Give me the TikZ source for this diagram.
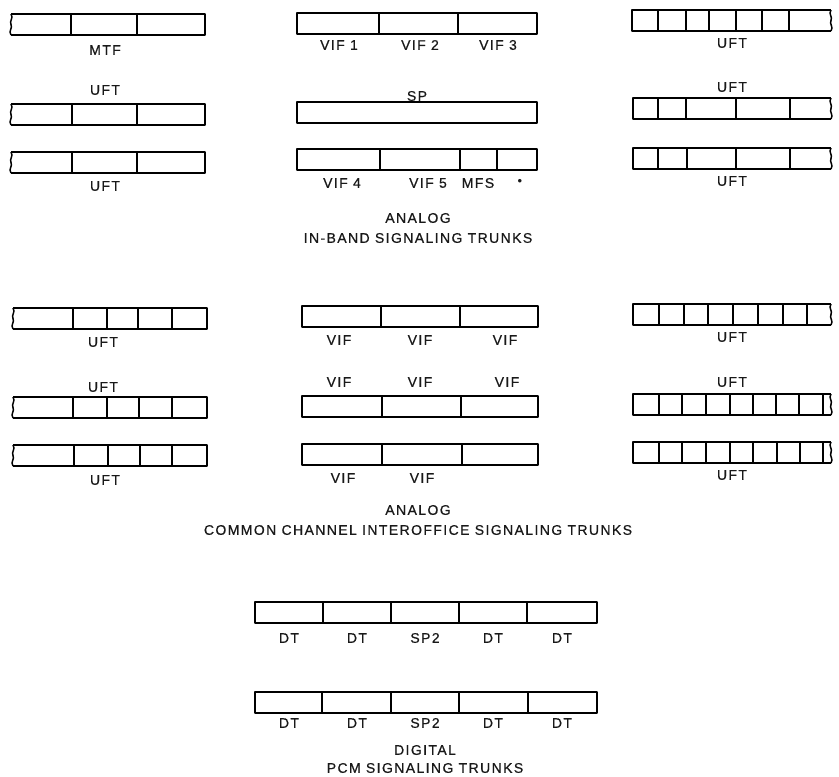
\documentclass[tikz,border=0pt]{standalone}
\usepackage{fontspec}
\setmainfont{Liberation Sans}
\newfontfamily\trunkfont[LetterSpace=10,FakeBold=0.6]{Liberation Sans}

% bar of trunks, broken at its left end
\newcommand{\barleft}[4]{%
  \draw[frame] (#1,#3) -- (#2,#3) -- (#2,#3+21) -- (#1,#3+21);
  \draw[frame] (#1,#3) .. controls (#1+3,#3+4) and (#1-2,#3+7) .. (#1,#3+10.5)
    .. controls (#1+2,#3+14) and (#1-3,#3+17) .. (#1,#3+21);
  \foreach \dv in {#4} \draw[frame] (\dv,#3) -- (\dv,#3+21);
}
% bar of trunks, broken at its right end
\newcommand{\barright}[4]{%
  \draw[frame] (#2,#3) -- (#1,#3) -- (#1,#3+21) -- (#2,#3+21);
  \draw[frame] (#2,#3) .. controls (#2-3,#3+4) and (#2+2,#3+7) .. (#2,#3+10.5)
    .. controls (#2-2,#3+14) and (#2+3,#3+17) .. (#2,#3+21);
  \foreach \dv in {#4} \draw[frame] (\dv,#3) -- (\dv,#3+21);
}
% closed bar of trunks
\newcommand{\barplain}[4]{%
  \draw[frame] (#1,#3) rectangle (#2,#3+21);
  \foreach \dv in {#4} \draw[frame] (\dv,#3) -- (\dv,#3+21);
}

\begin{document}
\begin{tikzpicture}[
    x=1pt, y=-1pt,
    frame/.style={line width=1.5pt, line join=round},
    lbl/.style={font=\trunkfont\fontsize{14}{16}\selectfont, inner sep=0pt, text=black!90}
]
    \useasboundingbox (0,0) rectangle (839,777);

    % analog in-band
    \barleft{11}{205}{14}{71,137}
    \node[lbl] (mtf) at (105,50) {MTF};
    \node[lbl] (uftLa) at (105,90) {UFT};
    \barleft{11}{205}{104}{72,137}
    \barleft{11}{205}{152}{72,137}
    \node[lbl] (uftLb) at (105,186) {UFT};

    \barplain{297}{537}{13}{379,458}
    \foreach \t/\x [count=\i] in {VIF 1/339, VIF 2/420, VIF 3/498}
        \node[lbl] (vif\i) at (\x,45) {\t};
    \node[lbl] (sp) at (417,96) {SP};
    \draw[frame] (297,102) rectangle (537,123);
    \barplain{297}{537}{149}{380,460,497}
    \node[lbl] (vif4) at (342,183) {VIF 4};
    \node[lbl] (vif5) at (428,183) {VIF 5};
    \node[lbl] (mfs) at (478,183) {MFS};
    \node[lbl, font=\fontsize{13}{13}\selectfont] (dot) at (520,182) {•};
    \node[lbl] (analogA) at (418,218) {ANALOG};
    \node[lbl] (inband) at (418,238) {IN-BAND SIGNALING TRUNKS};

    \barright{632}{831}{10}{658,686,709,736,762,789}
    \node[lbl] (uftRa) at (732,43) {UFT};
    \node[lbl] (uftRb) at (732,87) {UFT};
    \barright{633}{831}{98}{658,686,736,790}
    \barright{633}{831}{148}{658,687,736,790}
    \node[lbl] (uftRc) at (732,181) {UFT};

    % analog common channel
    \barleft{13}{207}{308}{73,107,138,172}
    \node[lbl] (uftLc) at (103,342) {UFT};
    \node[lbl] (uftLd) at (103,387) {UFT};
    \barleft{13}{207}{397}{73,107,139,172}
    \barleft{13}{207}{445}{74,108,140,172}
    \node[lbl] (uftLe) at (105,480) {UFT};

    \barplain{302}{538}{306}{381,460}
    \foreach \x [count=\i] in {339,420,505}
        \node[lbl] (vifa\i) at (\x,340) {VIF};
    \foreach \x [count=\i] in {339,420,507}
        \node[lbl] (vifb\i) at (\x,382) {VIF};
    \barplain{302}{538}{396}{382,461}
    \barplain{302}{538}{444}{382,462}
    \node[lbl] (vifc1) at (343,478) {VIF};
    \node[lbl] (vifc2) at (422,478) {VIF};
    \node[lbl] (analogB) at (418,510) {ANALOG};
    \node[lbl] (ccis) at (418,530) {COMMON CHANNEL INTEROFFICE SIGNALING TRUNKS};

    \barright{633}{831}{304}{659,684,708,733,758,783,807}
    \node[lbl] (uftRd) at (732,337) {UFT};
    \node[lbl] (uftRe) at (732,382) {UFT};
    \barright{633}{831}{394}{659,682,706,730,753,776,799,823}
    \barright{633}{831}{442}{659,682,706,730,753,777,800,823}
    \node[lbl] (uftRf) at (732,475) {UFT};

    % digital
    \barplain{255}{597}{602}{323,391,459,527}
    \foreach \t/\x [count=\i] in {DT/289, DT/357, SP2/425, DT/493, DT/562}
        \node[lbl] (dta\i) at (\x,638) {\t};
    \barplain{255}{597}{692}{322,391,459,528}
    \foreach \t/\x [count=\i] in {DT/289, DT/357, SP2/425, DT/493, DT/562}
        \node[lbl] (dtb\i) at (\x,723) {\t};
    \node[lbl] (digital) at (425,750) {DIGITAL};
    \node[lbl] (pcm) at (425,768) {PCM SIGNALING TRUNKS};
\end{tikzpicture}
\end{document}
